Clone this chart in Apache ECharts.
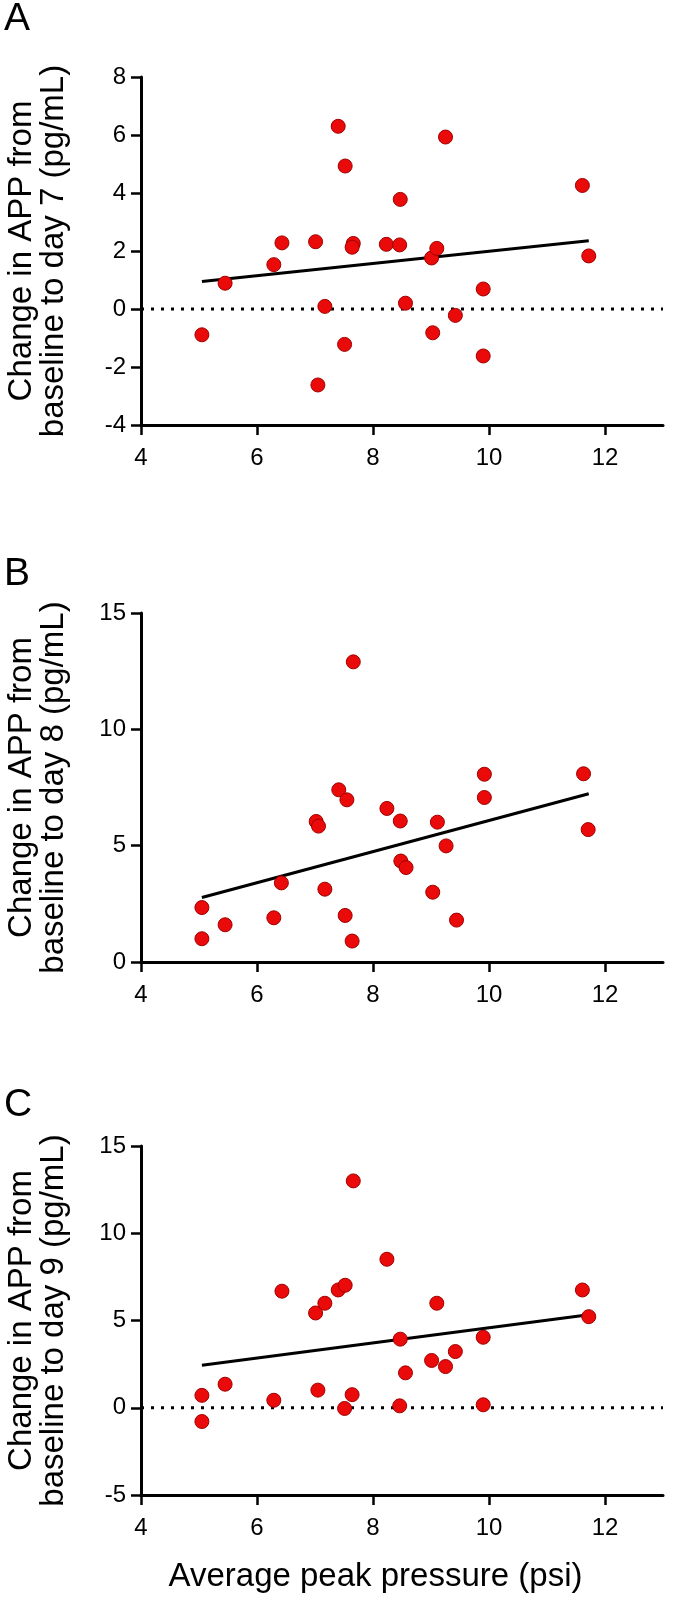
<!DOCTYPE html>
<html>
<head>
<meta charset="utf-8">
<script src="https://cdn.jsdelivr.net/npm/echarts@6/dist/echarts.min.js"></script>
<style>
html,body{margin:0;padding:0;background:#fff;}
#chart{width:677px;height:1597px;}
</style>
</head>
<body>
<div id="chart"></div>
<script>
// ---- data ----
var xTicks = [4, 6, 8, 10, 12];
var yTicksA = [-4, -2, 0, 2, 4, 6, 8];
var yTicksB = [0, 5, 10, 15];
var yTicksC = [-5, 0, 5, 10, 15];

var xA = [5.05, 5.45, 6.29, 6.43, 7.01, 7.05, 7.17, 7.40, 7.52, 7.51, 7.66, 7.64, 8.23, 8.46, 8.47, 8.56, 9.01, 9.10, 9.03, 9.25, 9.42, 9.90, 9.90, 11.61, 11.72];
var yA = [-0.89, 0.89, 1.53, 2.28, 2.32, -2.62, 0.09, 6.30, 4.93, -1.22, 2.26, 2.13, 2.23, 2.21, 3.78, 0.20, 1.76, 2.09, -0.82, 5.93, -0.22, 0.69, -1.62, 4.26, 1.83];

var xB = [5.05, 5.05, 5.45, 6.29, 6.42, 7.02, 7.06, 7.17, 7.41, 7.55, 7.52, 7.66, 7.64, 8.24, 8.47, 8.48, 8.57, 9.03, 9.11, 9.26, 9.44, 9.92, 9.92, 11.63, 11.71];
var yB = [2.34, 1.00, 1.60, 1.90, 3.40, 6.04, 5.84, 3.13, 7.40, 6.97, 2.00, 12.90, 0.90, 6.60, 6.06, 4.34, 4.06, 3.00, 6.01, 4.99, 1.80, 8.07, 7.07, 8.09, 5.69];

var xC = [5.05, 5.05, 5.45, 6.29, 6.43, 7.01, 7.05, 7.17, 7.40, 7.52, 7.51, 7.66, 7.64, 8.24, 8.46, 8.47, 8.56, 9.01, 9.10, 9.25, 9.42, 9.90, 9.90, 11.61, 11.72];
var yC = [0.71, -0.79, 1.35, 0.43, 6.68, 5.43, 1.01, 5.99, 6.75, 7.02, -0.04, 13.0, 0.75, 8.51, 0.11, 3.93, 2.00, 2.71, 5.99, 2.36, 3.22, 4.04, 0.17, 6.75, 5.22];

var fitA = [[5.05, 0.95], [11.72, 2.35]];
var fitB = [[5.05, 2.77], [11.72, 7.23]];
var fitC = [[5.05, 2.43], [11.72, 5.33]];
var zeroLine = [[4, 0], [13, 0]];

var panelLetters = ['A', 'B', 'C'];
var yTitles = [
  'Change in APP from\nbaseline to day 7 (pg/mL)',
  'Change in APP from\nbaseline to day 8 (pg/mL)',
  'Change in APP from\nbaseline to day 9 (pg/mL)'
];
var xTitle = 'Average peak pressure (psi)';

// ---- chart ----
var FONT = '"Liberation Sans", Arial, sans-serif';
function pairs(xs, ys) { return xs.map(function (x, i) { return [x, ys[i]]; }); }

var grids = [
  {left: 141, right: 14, top: 77, height: 348},
  {left: 141, right: 14, top: 613, height: 349},
  {left: 141, right: 14, top: 1146, height: 349}
];
var yRanges = [
  {min: -4, max: 8, interval: 2},
  {min: 0, max: 15, interval: 5},
  {min: -5, max: 15, interval: 5}
];

var axisLineStyle = {color: '#000', width: 3};
var xAxes = [], yAxes = [];
for (var i = 0; i < 3; i++) {
  xAxes.push({
    type: 'value', gridIndex: i, min: 4, max: 13,
    axisLine: {show: true, onZero: false, lineStyle: axisLineStyle},
    axisTick: {show: true, length: 10, lineStyle: {color: '#000', width: 2.5}, customValues: xTicks},
    axisLabel: {customValues: xTicks, color: '#000', fontSize: 24, fontFamily: FONT, margin: 21},
    splitLine: {show: false}
  });
  yAxes.push({
    type: 'value', gridIndex: i, min: yRanges[i].min, max: yRanges[i].max, interval: yRanges[i].interval,
    axisLine: {show: true, onZero: false, lineStyle: axisLineStyle},
    axisTick: {show: true, length: 10, lineStyle: {color: '#000', width: 2.5}},
    axisLabel: {color: '#000', fontSize: 24, fontFamily: FONT, margin: 15},
    splitLine: {show: false}
  });
}

var dotStyle = {color: '#ea0a0a', borderColor: '#a00000', borderWidth: 1, opacity: 1};
function scatter(idx, data) {
  return {type: 'scatter', xAxisIndex: idx, yAxisIndex: idx, data: data, symbol: 'circle', symbolSize: 14, itemStyle: dotStyle, z: 5};
}
function fit(idx, data) {
  return {type: 'line', xAxisIndex: idx, yAxisIndex: idx, data: data, symbol: 'none', lineStyle: {color: '#000', width: 3}, z: 4, silent: true};
}
function zero(idx) {
  return {type: 'line', xAxisIndex: idx, yAxisIndex: idx, data: zeroLine, symbol: 'none', lineStyle: {color: '#000', width: 3, type: [3, 7]}, z: 3, silent: true};
}

var series = [
  zero(0), fit(0, fitA), scatter(0, pairs(xA, yA)),
  fit(1, fitB), scatter(1, pairs(xB, yB)),
  zero(2), fit(2, fitC), scatter(2, pairs(xC, yC))
];

var letterY = [20, 575, 1106];
var graphics = [];
for (var k = 0; k < 3; k++) {
  graphics.push({
    type: 'text', left: 4, top: letterY[k] - 20,
    style: {text: panelLetters[k], font: '39px ' + FONT, fill: '#000'}
  });
  var cy = grids[k].top + grids[k].height / 2;
  graphics.push({
    type: 'text', x: 37.5, y: cy, rotation: Math.PI / 2,
    style: {text: yTitles[k], font: '33px ' + FONT, fill: '#000', align: 'center', verticalAlign: 'middle', lineHeight: 32}
  });
}
graphics.push({
  type: 'text', x: 375.5, y: 1577,
  style: {text: xTitle, font: '33px ' + FONT, fill: '#000', align: 'center', verticalAlign: 'middle'}
});

var chart = echarts.init(document.getElementById('chart'), null, {renderer: 'canvas'});
chart.setOption({
  animation: false,
  backgroundColor: '#fff',
  grid: grids,
  xAxis: xAxes,
  yAxis: yAxes,
  series: series,
  graphic: graphics
});
</script>
</body>
</html>
